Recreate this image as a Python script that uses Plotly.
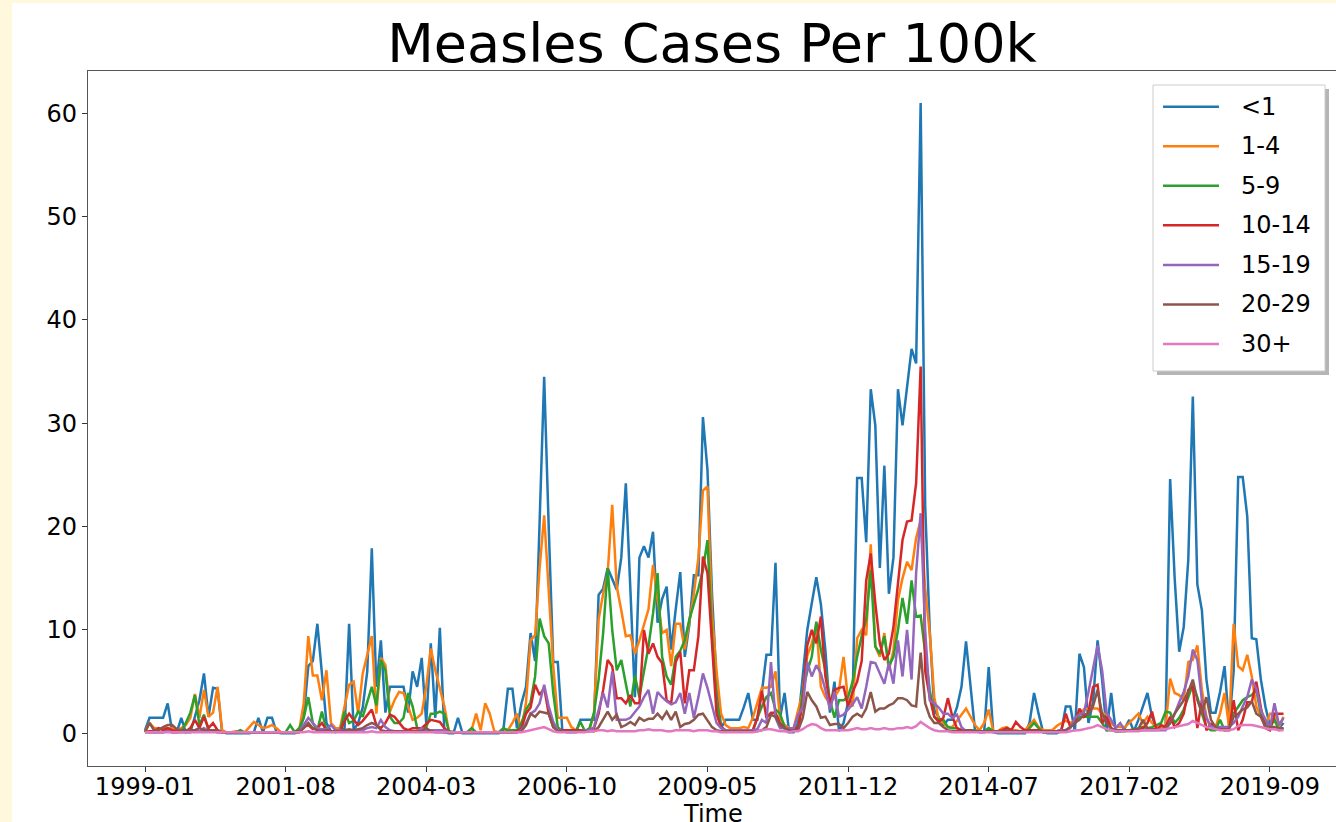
import plotly.graph_objects as go

# ---- data: monthly measles cases per 100k by age group, 1999-01 .. 2019-12 ----
years = list(range(1999, 2020))
months = [f"{y}-{m:02d}" for y in years for m in range(1, 13)]

lt1 = [
    0.3, 1.5, 1.5, 1.5, 1.5, 2.9, 0.1, 0.1, 1.5, 0.1, 0.1, 1.6,
    3.2, 5.8, 1.6, 4.4, 4.3, 0.1, 0.0, 0.0, 0.0, 0.0, 0.0, 0.0,
    0.1, 1.5, 0.1, 1.5, 1.5, 0.1, 0.0, 0.0, 0.0, 0.0, 0.2, 1.6,
    6.5, 7.0, 10.6, 5.8, 1.0, 0.2, 0.1, 0.3, 0.5, 10.6, 0.3, 1.0,
    2.5, 6.0, 17.9, 4.5, 9.0, 2.0, 4.5, 4.5, 4.5, 4.5, 2.0, 6.0,
    4.5, 7.3, 1.0, 8.7, 1.5, 10.2, 0.1, 0.0, 0.0, 1.5, 0.0, 0.0,
    0.0, 0.0, 0.0, 0.0, 0.0, 0.0, 0.0, 0.3, 4.3, 4.3, 0.5, 2.9,
    4.5, 9.7, 7.0, 20.5, 34.5, 20.0, 6.9, 6.9, 0.3, 0.1, 0.1, 0.1,
    1.3, 1.3, 1.3, 1.3, 13.4, 14.0, 16.0, 15.0, 13.9, 17.0, 24.2, 14.0,
    3.5, 17.0, 18.1, 17.0, 19.5, 10.7, 13.0, 14.2, 8.1, 12.0, 15.6, 7.4,
    10.5, 15.3, 15.3, 30.6, 25.5, 13.5, 5.0, 0.5, 1.3, 1.3, 1.3, 1.3,
    2.5, 3.9, 1.3, 1.3, 4.0, 7.6, 7.6, 16.5, 1.5, 3.9, 0.1, 0.1,
    1.0, 5.5, 10.0, 12.6, 15.1, 12.5, 8.0, 2.0, 5.0, 0.2, 1.0, 3.0,
    3.0, 24.7, 24.7, 18.5, 33.3, 29.8, 16.0, 25.9, 13.5, 17.0, 33.3, 29.8,
    33.5, 37.2, 35.8, 61.0, 22.0, 10.0, 2.3, 1.6, 0.8, 1.3, 1.3, 2.5,
    4.5, 8.9, 4.5, 0.2, 0.1, 0.1, 6.4, 0.1, 0.0, 0.0, 0.0, 0.0,
    0.0, 0.0, 0.0, 1.0, 3.9, 1.9, 0.1, 0.0, 0.0, 0.0, 0.2, 2.6,
    2.6, 0.2, 7.7, 6.4, 1.0, 3.0, 9.0, 5.2, 0.2, 3.9, 0.2, 0.2,
    0.5, 1.3, 0.2, 1.3, 2.6, 3.9, 1.6, 0.5, 0.5, 0.7, 24.6, 15.0,
    7.9, 10.3, 16.8, 32.6, 14.4, 11.9, 5.2, 2.0, 2.0, 4.0, 6.5, 0.7,
    6.0, 24.8, 24.8, 21.0, 9.2, 9.1, 5.2, 2.6, 0.7, 1.5, 0.5, 1.0,
]

age_1_4 = [
    0.2, 1.0, 0.5, 0.5, 0.5, 0.5, 0.5, 0.3, 0.5, 0.8, 1.5, 3.8,
    1.5, 4.2, 1.6, 2.0, 4.5, 0.3, 0.1, 0.1, 0.2, 0.1, 0.1, 0.6,
    1.1, 0.8, 0.5, 0.6, 0.8, 0.5, 0.1, 0.1, 0.1, 0.1, 0.3, 2.9,
    9.4, 5.6, 5.6, 3.2, 6.1, 1.0, 0.5, 0.5, 2.6, 4.7, 5.0, 1.9,
    5.8, 7.5, 9.4, 1.9, 7.3, 6.6, 2.1, 3.2, 4.0, 3.9, 2.7, 1.3,
    1.5, 1.9, 4.5, 8.2, 6.1, 4.2, 2.6, 0.2, 0.1, 0.1, 0.1, 0.1,
    0.3, 1.9, 0.3, 2.9, 1.9, 0.2, 0.1, 0.1, 0.3, 1.0, 1.9, 0.3,
    3.0, 9.0, 9.5, 16.0, 21.1, 14.0, 6.5, 1.5, 1.5, 1.5, 0.6, 0.3,
    0.3, 0.3, 0.3, 2.0, 11.0, 13.5, 15.5, 22.1, 14.2, 11.9, 9.4, 9.5,
    7.7, 9.0, 10.5, 12.0, 16.3, 13.0, 9.7, 10.0, 6.5, 10.6, 10.6, 8.1,
    10.6, 13.5, 17.0, 23.5, 23.9, 11.6, 6.0, 1.9, 0.8, 0.5, 0.5, 0.5,
    0.6, 0.5, 1.5, 3.0, 4.4, 4.4, 4.5, 6.0, 1.5, 0.8, 0.5, 0.5,
    2.3, 4.0, 7.5, 8.7, 10.6, 4.5, 3.5, 2.9, 3.5, 4.2, 7.4, 3.2,
    2.6, 9.2, 10.0, 9.5, 18.3, 8.4, 7.4, 9.7, 6.1, 8.0, 12.9, 15.0,
    16.6, 15.8, 18.9, 20.6, 14.0, 9.7, 3.5, 1.3, 1.0, 0.6, 0.6, 1.2,
    1.9, 2.4, 1.6, 0.8, 0.3, 1.0, 2.3, 0.2, 0.2, 0.5, 0.6, 0.3,
    0.3, 0.2, 0.3, 0.8, 1.3, 0.6, 0.3, 0.3, 0.3, 0.7, 1.0, 1.2,
    1.0, 1.2, 2.0, 2.3, 2.4, 2.4, 2.4, 1.9, 1.9, 1.0, 0.6, 0.6,
    0.6, 1.0, 1.5, 1.9, 1.0, 1.6, 1.0, 0.6, 0.6, 0.6, 5.3, 3.9,
    3.7, 3.2, 6.9, 7.1, 8.5, 4.2, 1.6, 0.4, 0.6, 1.9, 3.9, 0.6,
    10.6, 6.5, 6.1, 7.6, 5.5, 2.6, 1.6, 0.6, 1.9, 1.9, 0.6, 1.6,
]

age_5_9 = [
    0.2, 0.1, 0.1, 0.1, 0.1, 0.3, 0.2, 0.2, 0.2, 1.0, 2.0, 3.7,
    0.8, 1.8, 0.3, 0.2, 0.1, 0.1, 0.1, 0.1, 0.1, 0.3, 0.1, 0.1,
    0.1, 0.1, 0.1, 0.1, 0.1, 0.1, 0.1, 0.1, 0.8, 0.1, 0.5, 1.5,
    3.5, 1.0, 0.3, 2.1, 0.3, 0.2, 0.2, 0.2, 2.1, 1.0, 1.2, 2.1,
    1.6, 3.0, 4.5, 2.7, 7.1, 6.1, 1.6, 1.0, 1.0, 1.5, 3.9, 2.6,
    0.5, 0.5, 0.6, 1.9, 1.9, 2.1, 1.9, 0.2, 0.1, 0.1, 0.1, 0.1,
    0.5, 0.1, 0.1, 0.1, 0.1, 0.1, 0.1, 0.5, 0.3, 0.3, 0.3, 1.0,
    2.3, 3.0, 5.5, 11.1, 9.4, 8.7, 3.9, 0.6, 0.2, 0.2, 0.2, 0.2,
    1.1, 0.2, 0.5, 2.0, 5.2, 9.7, 16.0, 10.0, 6.1, 7.1, 4.8, 2.6,
    5.6, 3.5, 6.0, 8.4, 11.6, 15.5, 7.4, 5.5, 4.7, 7.4, 8.0, 9.0,
    11.0, 12.5, 14.0, 15.8, 18.7, 9.4, 3.0, 0.6, 0.2, 0.2, 0.2, 0.2,
    0.2, 0.2, 0.2, 1.5, 2.6, 3.5, 3.9, 2.3, 1.9, 0.6, 0.3, 0.3,
    0.3, 4.0, 6.0, 7.4, 10.8, 8.1, 6.1, 3.2, 1.5, 3.2, 3.2, 3.5,
    5.0, 7.4, 9.4, 11.0, 15.8, 8.4, 7.7, 9.4, 6.5, 7.4, 10.0, 13.1,
    10.6, 14.8, 11.3, 11.4, 7.7, 4.2, 1.6, 1.3, 1.3, 0.6, 0.5, 0.5,
    0.3, 0.3, 0.3, 0.3, 0.2, 0.2, 0.5, 0.2, 0.1, 0.1, 0.1, 0.1,
    0.1, 0.1, 0.1, 0.5, 1.0, 0.5, 0.1, 0.1, 0.1, 0.2, 0.3, 0.3,
    0.6, 1.1, 1.6, 1.6, 1.6, 1.6, 1.6, 1.0, 0.3, 0.3, 0.2, 0.2,
    0.2, 0.3, 0.3, 0.5, 0.6, 0.5, 0.6, 0.8, 1.0, 2.1, 2.0, 1.0,
    1.5, 2.3, 3.5, 4.7, 3.5, 1.9, 0.6, 0.3, 0.3, 1.3, 0.3, 0.5,
    1.9, 2.5, 3.2, 3.5, 3.7, 4.2, 1.9, 1.0, 0.6, 1.3, 0.3, 0.5,
]

age_10_14 = [
    0.1, 0.2, 0.2, 0.5, 0.3, 0.5, 0.3, 0.2, 0.2, 0.2, 0.5, 1.3,
    0.5, 1.6, 0.5, 1.0, 0.3, 0.1, 0.1, 0.1, 0.1, 0.1, 0.1, 0.1,
    0.1, 0.1, 0.1, 0.1, 0.1, 0.1, 0.1, 0.1, 0.1, 0.1, 0.2, 0.6,
    0.8, 0.4, 0.5, 1.0, 0.3, 0.2, 0.2, 0.2, 1.2, 1.9, 1.3, 0.8,
    1.2, 1.8, 2.3, 0.8, 0.5, 1.0, 1.8, 1.6, 1.0, 0.5, 0.3, 0.5,
    0.5, 0.5, 0.9, 1.3, 1.2, 1.1, 0.5, 0.1, 0.1, 0.1, 0.1, 0.1,
    0.1, 0.1, 0.1, 0.1, 0.1, 0.1, 0.1, 0.1, 0.1, 0.1, 0.2, 0.5,
    1.9, 2.5, 4.7, 3.7, 4.4, 1.9, 0.6, 0.3, 0.3, 0.3, 0.3, 0.3,
    0.3, 0.3, 0.3, 0.5, 1.9, 4.2, 7.1, 6.5, 3.4, 3.4, 2.9, 3.7,
    2.9, 2.9, 10.0, 7.7, 8.7, 7.4, 6.8, 3.2, 2.9, 6.9, 7.9, 2.9,
    6.1, 6.1, 9.4, 17.1, 15.5, 8.7, 1.9, 0.6, 0.3, 0.3, 0.3, 0.3,
    0.3, 0.3, 0.3, 1.5, 4.1, 1.5, 2.0, 2.0, 1.0, 0.5, 0.5, 0.5,
    0.5, 3.0, 8.5, 10.0, 8.7, 11.3, 5.5, 2.9, 4.2, 4.4, 4.5, 2.6,
    4.0, 5.0, 7.0, 14.8, 17.4, 12.6, 8.7, 7.1, 7.7, 10.3, 14.8, 18.7,
    20.5, 20.6, 24.2, 35.5, 6.0, 3.5, 1.6, 1.1, 1.5, 3.4, 1.6, 0.5,
    0.3, 0.2, 0.2, 0.2, 0.2, 0.2, 0.2, 0.2, 0.2, 0.3, 0.5, 0.3,
    1.1, 0.6, 0.3, 0.3, 0.3, 0.3, 0.2, 0.2, 0.2, 0.2, 0.3, 1.9,
    0.6, 1.0, 2.4, 1.6, 2.0, 4.5, 4.7, 1.0, 1.6, 0.5, 0.3, 0.3,
    0.3, 0.3, 0.3, 0.3, 0.5, 1.0, 2.1, 0.3, 0.8, 0.6, 1.6, 0.6,
    1.0, 1.9, 4.2, 4.5, 0.5, 3.2, 0.3, 0.9, 0.6, 0.5, 0.3, 0.3,
    3.2, 0.3, 1.3, 3.0, 3.0, 5.0, 2.5, 0.5, 0.3, 1.9, 1.9, 1.9,
]

age_15_19 = [
    0.1, 0.1, 0.1, 0.1, 0.1, 0.2, 0.1, 0.1, 0.1, 0.1, 0.2, 0.3,
    0.2, 0.5, 0.2, 0.2, 0.1, 0.1, 0.1, 0.1, 0.1, 0.1, 0.1, 0.1,
    0.1, 0.1, 0.1, 0.1, 0.1, 0.1, 0.1, 0.1, 0.1, 0.1, 0.1, 0.8,
    1.5, 1.0, 0.5, 0.4, 0.4, 0.8, 0.3, 0.3, 0.3, 0.3, 0.3, 0.3,
    0.3, 0.5, 0.6, 0.5, 1.3, 0.6, 0.3, 0.2, 0.2, 0.2, 0.2, 0.2,
    0.2, 0.5, 0.3, 0.3, 0.3, 0.3, 0.3, 0.1, 0.1, 0.1, 0.1, 0.1,
    0.1, 0.1, 0.1, 0.1, 0.1, 0.1, 0.1, 0.1, 0.1, 0.1, 0.1, 0.3,
    1.0, 1.9, 2.2, 2.9, 4.7, 2.6, 1.1, 0.3, 0.2, 0.2, 0.2, 0.2,
    0.2, 0.3, 0.3, 0.6, 2.3, 3.9, 2.5, 6.0, 1.3, 1.3, 1.3, 1.5,
    2.0, 2.6, 3.5, 4.2, 1.9, 4.0, 3.5, 3.1, 2.8, 3.0, 3.9, 1.9,
    3.9, 1.5, 3.5, 5.8, 4.4, 2.6, 1.0, 0.5, 0.3, 0.3, 0.3, 0.3,
    0.3, 0.3, 0.3, 0.4, 1.3, 1.0, 6.9, 1.5, 0.5, 0.5, 0.5, 0.5,
    1.8, 2.5, 6.9, 5.5, 6.6, 5.8, 4.2, 2.3, 4.0, 1.6, 1.8, 2.3,
    2.8, 3.5, 2.4, 4.5, 6.9, 6.8, 5.8, 4.8, 6.8, 4.8, 9.0, 5.5,
    10.0, 5.2, 15.5, 21.3, 10.0, 3.2, 2.9, 2.5, 1.9, 1.9, 1.5, 1.8,
    0.6, 0.2, 0.2, 0.2, 0.2, 0.2, 0.2, 0.2, 0.2, 0.2, 0.2, 0.2,
    0.2, 0.2, 0.2, 0.2, 0.2, 0.2, 0.2, 0.2, 0.2, 0.2, 0.3, 0.3,
    0.5, 1.5, 1.8, 2.0, 4.0, 6.1, 8.5, 6.1, 2.0, 1.3, 0.5, 1.0,
    0.3, 0.3, 0.3, 0.3, 0.3, 0.3, 0.3, 0.3, 0.3, 0.3, 1.0, 1.9,
    3.0, 4.0, 5.5, 8.1, 7.1, 3.2, 1.5, 0.6, 0.6, 0.6, 0.6, 0.6,
    1.0, 1.6, 2.6, 3.5, 5.2, 4.3, 2.2, 1.3, 0.5, 2.9, 0.8, 1.5,
]

age_20_29 = [
    0.1, 1.0, 0.3, 0.3, 0.6, 0.8, 0.8, 0.4, 0.3, 0.3, 0.3, 0.3,
    0.5, 0.3, 0.3, 0.3, 0.3, 0.1, 0.1, 0.1, 0.1, 0.1, 0.1, 0.1,
    0.1, 0.1, 0.1, 0.1, 0.1, 0.1, 0.1, 0.1, 0.1, 0.1, 0.1, 0.5,
    1.0, 0.5, 0.3, 0.2, 0.3, 0.2, 0.2, 0.2, 0.3, 0.4, 0.3, 0.4,
    0.5, 0.8, 1.0, 0.8, 0.3, 0.2, 0.2, 0.2, 0.2, 0.2, 0.2, 0.2,
    0.2, 0.2, 0.5, 0.2, 0.1, 0.1, 0.1, 0.1, 0.1, 0.1, 0.1, 0.1,
    0.1, 0.1, 0.1, 0.1, 0.1, 0.1, 0.1, 0.1, 0.1, 0.1, 0.1, 0.2,
    0.8, 1.9, 1.6, 2.1, 2.0, 1.9, 0.6, 0.2, 0.2, 0.2, 0.2, 0.2,
    0.2, 0.2, 0.2, 0.2, 0.6, 1.3, 2.1, 1.3, 1.8, 0.6, 0.8, 1.1,
    0.8, 1.5, 1.2, 1.4, 1.4, 1.9, 1.4, 2.1, 1.3, 2.1, 0.6, 0.9,
    1.0, 1.3, 1.8, 1.9, 1.2, 0.6, 0.3, 0.2, 0.2, 0.2, 0.2, 0.2,
    0.2, 0.2, 0.2, 0.2, 0.3, 0.6, 1.8, 1.6, 0.8, 0.5, 0.3, 0.3,
    0.3, 1.5, 4.0, 3.2, 2.6, 1.5, 1.6, 0.8, 0.9, 0.9, 0.5, 1.0,
    1.6, 1.9, 1.6, 2.4, 4.0, 2.1, 2.4, 2.4, 2.7, 2.9, 3.4, 3.4,
    3.2, 2.7, 2.6, 7.8, 2.9, 1.6, 1.0, 1.0, 0.6, 0.3, 0.2, 0.2,
    0.2, 0.3, 0.3, 0.2, 0.2, 0.2, 0.2, 0.2, 0.2, 0.2, 0.3, 0.2,
    0.2, 0.2, 0.2, 0.2, 0.2, 0.2, 0.2, 0.2, 0.2, 0.2, 0.2, 0.3,
    0.6, 1.0, 1.3, 1.8, 1.9, 2.6, 4.2, 1.9, 1.0, 0.4, 0.3, 0.3,
    0.3, 0.3, 0.4, 0.4, 1.3, 0.5, 0.4, 0.4, 0.4, 0.5, 1.0, 1.9,
    2.5, 3.2, 4.0, 5.2, 3.2, 2.0, 3.5, 1.3, 0.6, 0.4, 0.4, 0.4,
    1.6, 1.9, 2.3, 2.5, 3.1, 1.9, 1.6, 0.6, 0.6, 0.6, 0.5, 0.5,
]

age_30_plus = [
    0.1, 0.1, 0.1, 0.1, 0.1, 0.1, 0.1, 0.1, 0.1, 0.1, 0.1, 0.1,
    0.1, 0.1, 0.1, 0.1, 0.1, 0.1, 0.1, 0.1, 0.1, 0.1, 0.1, 0.1,
    0.1, 0.1, 0.1, 0.1, 0.1, 0.1, 0.1, 0.1, 0.1, 0.1, 0.1, 0.1,
    0.2, 0.1, 0.1, 0.1, 0.1, 0.1, 0.1, 0.1, 0.1, 0.1, 0.1, 0.1,
    0.1, 0.1, 0.2, 0.1, 0.1, 0.1, 0.1, 0.1, 0.1, 0.1, 0.1, 0.1,
    0.1, 0.1, 0.1, 0.1, 0.1, 0.1, 0.1, 0.1, 0.1, 0.1, 0.1, 0.1,
    0.1, 0.1, 0.1, 0.1, 0.1, 0.1, 0.1, 0.1, 0.1, 0.1, 0.1, 0.1,
    0.2, 0.3, 0.4, 0.5, 0.6, 0.4, 0.2, 0.1, 0.1, 0.1, 0.1, 0.1,
    0.1, 0.1, 0.2, 0.2, 0.3, 0.3, 0.2, 0.3, 0.2, 0.2, 0.2, 0.2,
    0.2, 0.3, 0.3, 0.4, 0.3, 0.3, 0.3, 0.2, 0.2, 0.3, 0.3, 0.3,
    0.3, 0.2, 0.3, 0.3, 0.3, 0.2, 0.2, 0.1, 0.1, 0.1, 0.1, 0.1,
    0.1, 0.1, 0.1, 0.2, 0.3, 0.4, 0.4, 0.3, 0.2, 0.2, 0.1, 0.2,
    0.2, 0.4, 0.7, 0.9, 0.8, 0.5, 0.3, 0.3, 0.3, 0.3, 0.3, 0.3,
    0.4, 0.5, 0.4, 0.4, 0.5, 0.4, 0.4, 0.5, 0.4, 0.4, 0.5, 0.5,
    0.6, 0.5, 0.7, 1.1, 0.8, 0.5, 0.3, 0.2, 0.2, 0.2, 0.1, 0.1,
    0.1, 0.1, 0.1, 0.1, 0.1, 0.1, 0.1, 0.1, 0.1, 0.1, 0.1, 0.1,
    0.1, 0.1, 0.1, 0.1, 0.1, 0.1, 0.1, 0.1, 0.1, 0.1, 0.1, 0.1,
    0.2, 0.3, 0.3, 0.4, 0.5, 0.6, 0.8, 0.6, 0.4, 0.3, 0.2, 0.2,
    0.2, 0.2, 0.2, 0.2, 0.3, 0.3, 0.3, 0.3, 0.4, 0.4, 0.5, 0.6,
    0.7, 0.8, 0.9, 1.2, 1.0, 0.8, 0.6, 0.5, 0.4, 0.3, 0.3, 0.3,
    0.4, 0.7, 0.8, 0.8, 0.8, 0.7, 0.6, 0.5, 0.4, 0.4, 0.3, 0.3,
]

series = [
    ("<1", lt1, "#1f77b4"),
    ("1-4", age_1_4, "#ff7f0e"),
    ("5-9", age_5_9, "#2ca02c"),
    ("10-14", age_10_14, "#d62728"),
    ("15-19", age_15_19, "#9467bd"),
    ("20-29", age_20_29, "#8c564b"),
    ("30+", age_30_plus, "#e377c2"),
]

tick_labels = ["1999-01", "2001-08", "2004-03", "2006-10", "2009-05",
               "2011-12", "2014-07", "2017-02", "2019-09"]
y_ticks = [0, 10, 20, 30, 40, 50, 60]

# ---- page geometry (px) ----
W, H = 1336, 822
ML, MR, MT, MB = 88, 0, 71, 56
PW, PH = W - ML - MR, H - MT - MB


def fx(px):
    return (px - ML) / PW


def fy(py):
    return (H - MB - py) / PH


FONT = "DejaVu Sans"
PAGE = "#fff8dc"
LW = 2.5

fig = go.Figure()
for name, vals, color in series:
    fig.add_trace(go.Scatter(
        x=months, y=vals, mode="lines", name=name,
        line=dict(color=color, width=LW), showlegend=False,
    ))

shapes = [
    # cream page strips around the white figure canvas
    dict(type="rect", xref="paper", yref="paper", layer="below",
         x0=fx(0), x1=fx(12), y0=fy(H), y1=fy(0),
         fillcolor=PAGE, line=dict(width=0)),
    dict(type="rect", xref="paper", yref="paper", layer="below",
         x0=fx(0), x1=fx(W), y0=fy(3), y1=fy(0),
         fillcolor=PAGE, line=dict(width=0)),
    # legend frame: drop shadow, then box
    dict(type="rect", xref="paper", yref="paper", layer="above",
         x0=fx(1157), x1=fx(1329), y0=fy(375), y1=fy(89),
         fillcolor="rgba(120,120,120,0.55)", line=dict(width=0)),
    dict(type="rect", xref="paper", yref="paper", layer="above",
         x0=fx(1153), x1=fx(1325), y0=fy(371), y1=fy(85),
         fillcolor="white", line=dict(color="#cccccc", width=1)),
]

# legend entries: a line sample and a label per age group
annotations = []
row0, row_step = 106.7, 39.55
for k, (name, _, color) in enumerate(series):
    yc = row0 + k * row_step
    shapes.append(dict(type="line", xref="paper", yref="paper", layer="above",
                       x0=fx(1163), x1=fx(1219), y0=fy(yc), y1=fy(yc),
                       line=dict(color=color, width=LW)))
    annotations.append(dict(text=name, xref="paper", yref="paper",
                            x=fx(1239), y=fy(yc), xanchor="left", yanchor="middle",
                            showarrow=False, font=dict(size=24, family=FONT, color="black")))

# x-axis caption, sitting at the lower edge of the canvas
annotations.append(dict(text="Time", xref="paper", yref="paper",
                        x=fx(713), y=fy(814), xanchor="center", yanchor="middle",
                        showarrow=False, font=dict(size=24, family=FONT, color="black")))

fig.update_layout(
    width=W, height=H,
    margin=dict(l=ML, r=MR, t=MT, b=MB, pad=0, autoexpand=False),
    paper_bgcolor="white", plot_bgcolor="white",
    font=dict(family=FONT, size=24, color="black"),
    title=dict(text="Measles Cases Per 100k", font=dict(size=54, family=FONT),
               x=fx(712), xref="paper", xanchor="center",
               y=1 - 43 / H, yanchor="middle"),
    showlegend=False,
    shapes=shapes,
    annotations=annotations,
    xaxis=dict(
        type="category", categoryorder="array", categoryarray=months,
        range=[-12.566, -12.566 + PW / 4.536],
        tickmode="array", tickvals=tick_labels, ticktext=tick_labels,
        ticks="outside", ticklen=5, tickwidth=1.2, tickcolor="#333",
        ticklabelstandoff=-6,
        showline=True, linecolor="#555", linewidth=1.3, mirror=True,
        showgrid=False, zeroline=False, automargin=False,
        tickfont=dict(size=24, family=FONT, color="black"),
    ),
    yaxis=dict(
        range=[-(H - MB - 733.3) / 10.333, (733.3 - MT) / 10.333],
        tickmode="array", tickvals=y_ticks,
        ticks="outside", ticklen=5, tickwidth=1.2, tickcolor="#333",
        showline=True, linecolor="#555", linewidth=1.3, mirror=False,
        showgrid=False, zeroline=False, automargin=False,
        tickfont=dict(size=24, family=FONT, color="black"),
    ),
)

fig.write_html("out.html")
